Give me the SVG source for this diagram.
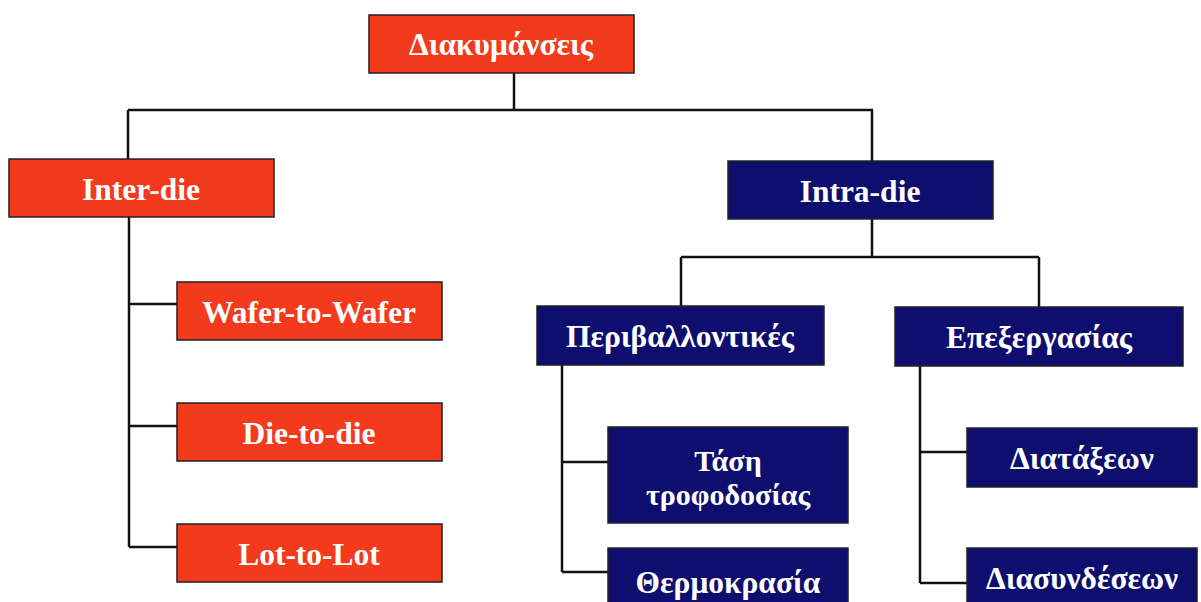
<svg xmlns="http://www.w3.org/2000/svg" width="1201" height="602" viewBox="0 0 1201 602">
<style>
.red{fill:#f43a1c;stroke:#222;stroke-width:1.5}
.blue{fill:#0e0e6e;stroke:#222;stroke-width:1.5}
.t{font-family:"Liberation Serif","DejaVu Serif",serif;font-weight:bold;font-size:31.5px;fill:#fff;text-anchor:middle}
.t2{font-size:30px}
.c{fill:none;stroke:#111;stroke-width:2.5}
</style>
<rect width="1201" height="602" fill="#fff"/>
<g id="connectors">
<path class="c" d="M514 73V110M128 110H873M128 110V159M872 110V161"/>
<path class="c" d="M129 217V547M129 304H177M129 426H177M129 547H177"/>
<path class="c" d="M872 219V257M681 257H1039M681 257V306M1039 257V307"/>
<path class="c" d="M562 365V572M562 462H608M562 572H608"/>
<path class="c" d="M920 366V583M920 452H967M920 583H967"/>
</g>
<g id="n-root"><rect class="red" x="369" y="15" width="265" height="58"/><text class="t" x="501" y="55">Διακυμάνσεις</text></g>
<g id="n-inter"><rect class="red" x="9" y="159" width="265" height="58"/><text class="t" x="141" y="200">Inter-die</text></g>
<g id="n-intra"><rect class="blue" x="728" y="161" width="265" height="58"/><text class="t" x="860" y="202">Intra-die</text></g>
<g id="n-w2w"><rect class="red" x="177" y="282" width="265" height="58"/><text class="t" x="309" y="323">Wafer-to-Wafer</text></g>
<g id="n-d2d"><rect class="red" x="177" y="403" width="265" height="58"/><text class="t" x="309" y="444">Die-to-die</text></g>
<g id="n-l2l"><rect class="red" x="177" y="524" width="265" height="58"/><text class="t" x="309" y="565">Lot-to-Lot</text></g>
<g id="n-env"><rect class="blue" x="537" y="306" width="287" height="59"/><text class="t" x="680" y="347">Περιβαλλοντικές</text></g>
<g id="n-proc"><rect class="blue" x="895" y="307" width="288" height="59"/><text class="t" x="1039" y="348">Επεξεργασίας</text></g>
<g id="n-volt"><rect class="blue" x="608" y="427" width="240" height="96"/><text class="t t2" x="728" y="471">Τάση</text><text class="t t2" x="728" y="505">τροφοδοσίας</text></g>
<g id="n-temp"><rect class="blue" x="608" y="548" width="240" height="80"/><text class="t" x="728" y="593">Θερμοκρασία</text></g>
<g id="n-dev"><rect class="blue" x="967" y="428" width="230" height="59"/><text class="t" x="1082" y="469">Διατάξεων</text></g>
<g id="n-int"><rect class="blue" x="967" y="548" width="230" height="80"/><text class="t" x="1082" y="589">Διασυνδέσεων</text></g>
</svg>
